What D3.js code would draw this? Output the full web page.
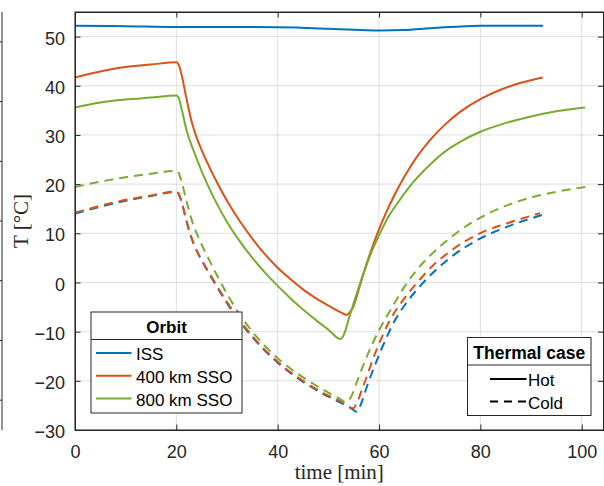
<!DOCTYPE html>
<html><head><meta charset="utf-8">
<script src="https://cdn.jsdelivr.net/npm/d3@7"></script>
<style>html,body{margin:0;padding:0;background:#fff;} svg{display:block}</style>
</head><body>
<svg id="chart" width="604" height="486"></svg>
<script>
// ---------- data ----------
const xTicks = [0, 20, 40, 60, 80, 100];
const yTicks = [-30, -20, -10, 0, 10, 20, 30, 40, 50];
const orbitNames = ["ISS", "400 km SSO", "800 km SSO"];
const orbitColors = ["#0072BD", "#D95319", "#77AC30"];
const caseNames = ["Hot", "Cold"];

// ISS
const issHotTime = [0, 10, 20, 30, 40, 50, 55, 60, 65, 70, 75, 80, 85, 92.4];
const issHotTemp = [52.2, 52.1, 51.95, 51.95, 51.9, 51.6, 51.4, 51.25, 51.35, 51.7, 52.0, 52.2, 52.2, 52.2];
const issColdTime = [0, 5, 10, 15, 20, 20.5, 21, 21.8, 22.7, 23.8, 25, 27.5, 30, 32.5, 35, 37.5, 40, 42.5, 45, 47.5, 50, 52.5, 54.5, 55.6, 56.4, 57.6, 60.5, 63.2, 65.8, 68.4, 71.5, 74, 79.9, 85.2, 92.4];
const issColdTemp = [14.0, 15.4, 16.6, 17.6, 18.4, 17.9, 16.5, 13.3, 9.9, 6.9, 4.5, 0.0, -4.2, -7.9, -11.1, -13.9, -16.3, -18.4, -20.2, -21.8, -23.2, -24.5, -25.6, -26.3, -24.8, -21.2, -13.5, -7.6, -3.6, -0.4, 2.8, 5.0, 8.9, 11.3, 13.8];

// 400 km SSO
const sso400HotTime = [0, 5, 10, 15, 20, 20.5, 21, 22, 23, 24, 25, 27.5, 30, 32.5, 35, 37.5, 40, 42.5, 45, 47.5, 50, 52.5, 53.6, 54.2, 54.8, 55.5, 56, 57, 58.2, 59.5, 61, 63, 65, 67.5, 70.1, 73, 76, 80, 84, 88, 92.3];
const sso400HotTemp = [41.7, 42.9, 43.8, 44.3, 44.8, 44.2, 42.4, 37.4, 32.8, 29.5, 26.9, 21.4, 16.6, 12.5, 8.9, 5.7, 3.0, 0.7, -1.4, -3.2, -4.7, -6.1, -6.6, -6.1, -5.2, -3.2, -1.4, 2.0, 5.8, 9.5, 13.3, 17.7, 21.5, 25.6, 29.0, 32.1, 34.7, 37.3, 39.2, 40.6, 41.7];
const sso400ColdTime = [0, 5, 10, 15, 20, 20.5, 21, 21.8, 22.7, 23.8, 25, 27.5, 30, 32.5, 35, 37.5, 40, 42.5, 45, 47.5, 50, 52.5, 54.9, 55.7, 56.6, 59.5, 62.2, 64.8, 67.4, 70.5, 74, 79.9, 85.2, 91.8];
const sso400ColdTemp = [14.2, 15.6, 16.8, 17.7, 18.5, 18.0, 16.6, 13.4, 10.0, 7.0, 4.6, 0.2, -4.0, -7.7, -10.9, -13.7, -16.1, -18.2, -20.0, -21.6, -23.0, -24.2, -25.6, -24.3, -21.9, -13.7, -7.6, -3.5, -0.2, 3.3, 6.3, 10.0, 12.0, 14.1];

// 800 km SSO
const sso800HotTime = [0, 5, 10, 15, 20, 20.5, 21, 22, 23.35, 25, 27.5, 30, 32.5, 35, 37.5, 40, 42.5, 45, 47.5, 50, 52.4, 53.3, 54, 55, 56, 57, 58.2, 60.2, 62, 64.1, 67, 70.1, 73, 76, 79.9, 84, 89.8, 95, 100.7];
const sso800HotTemp = [35.6, 36.6, 37.2, 37.6, 38.0, 37.4, 35.5, 31.0, 26.95, 22.6, 17.0, 12.3, 8.4, 5.0, 2.0, -0.7, -3.2, -5.5, -7.6, -9.6, -11.5, -10.0, -7.5, -4.2, -1.0, 2.0, 5.4, 10.0, 13.6, 16.8, 20.7, 24.0, 26.6, 28.6, 30.6, 32.1, 33.7, 34.8, 35.6];
const sso800ColdTime = [0, 5, 10, 15, 20, 20.5, 21, 22, 23, 24.3, 26, 28.3, 30, 32.5, 35, 37.5, 40, 42.5, 45, 47.5, 50, 52.5, 53.3, 54, 54.7, 55.5, 56.9, 58.6, 60.2, 62.5, 64.8, 67.5, 72, 76, 81.9, 87.8, 94.3, 100.7];
const sso800ColdTemp = [19.4, 20.5, 21.4, 22.1, 22.7, 22.2, 20.6, 16.6, 12.8, 9.3, 5.6, 0.9, -2.3, -6.5, -10.0, -12.9, -15.4, -17.5, -19.3, -20.9, -22.4, -23.8, -24.3, -24.0, -22.8, -20.6, -16.8, -12.7, -9.3, -5.2, -1.2, 2.6, 7.3, 10.6, 14.2, 16.6, 18.3, 19.4];

const series = [
  {orbit: 0, kase: 0, t: issHotTime, v: issHotTemp},
  {orbit: 0, kase: 1, t: issColdTime, v: issColdTemp},
  {orbit: 1, kase: 0, t: sso400HotTime, v: sso400HotTemp},
  {orbit: 1, kase: 1, t: sso400ColdTime, v: sso400ColdTemp},
  {orbit: 2, kase: 0, t: sso800HotTime, v: sso800HotTemp},
  {orbit: 2, kase: 1, t: sso800ColdTime, v: sso800ColdTemp}
];

// ---------- layout ----------
const L = 75, R = 603.5, T = 12, B = 430;
const axisColor = "#262626";
const sansFont = "'Liberation Sans', Arial, Helvetica, sans-serif";
const serifFont = "'Liberation Serif', 'Times New Roman', serif";
const dash = "9,6";

const svg = d3.select("#chart");
const x = d3.scaleLinear().domain([0, 104.3]).range([L, R]);
const y = d3.scaleLinear().domain([-30, 55]).range([B, T]);

// neighbouring panel's right axis (cut off at left edge)
const yn = d3.scaleLinear().domain([0, 14]).range([B, T]);
const gn = svg.append("g");
gn.append("line").attr("x1", 2).attr("x2", 2).attr("y1", T).attr("y2", B)
  .attr("stroke", axisColor).attr("stroke-width", 1);
gn.selectAll("line.nt").data([1, 3, 5, 7, 9, 11, 13]).enter().append("line")
  .attr("class", "nt").attr("x1", -4).attr("x2", 2)
  .attr("y1", d => yn(d)).attr("y2", d => yn(d))
  .attr("stroke", axisColor).attr("stroke-width", 1);

// grid
const grid = svg.append("g").attr("stroke", axisColor).attr("stroke-opacity", 0.15).attr("stroke-width", 1);
grid.selectAll("line.gx").data(xTicks).enter().append("line")
  .attr("x1", d => x(d)).attr("x2", d => x(d)).attr("y1", T).attr("y2", B);
grid.selectAll("line.gy").data(yTicks).enter().append("line")
  .attr("x1", L).attr("x2", R).attr("y1", d => y(d)).attr("y2", d => y(d));

// lines
const line = d3.line().x(d => d[0]).y(d => d[1]).curve(d3.curveMonotoneX);
svg.append("g").selectAll("path").data(series).enter().append("path")
  .attr("d", s => line(s.t.map((tt, i) => [x(tt), y(s.v[i])])))
  .attr("fill", "none")
  .attr("stroke", s => orbitColors[s.orbit])
  .attr("stroke-width", 2)
  .attr("stroke-dasharray", s => s.kase === 1 ? dash : null)
  .attr("stroke-linejoin", "round");

// axes
function styleAxis(g) {
  g.selectAll("path.domain").attr("stroke", axisColor);
  g.selectAll(".tick line").attr("stroke", axisColor);
  g.selectAll("text").attr("fill", axisColor).style("font-family", sansFont).style("font-size", "18px");
}
const tk = 5.5;
svg.append("g").attr("transform", `translate(0,${B})`)
  .call(d3.axisBottom(x).tickValues(xTicks).tickSizeInner(-tk).tickSizeOuter(0).tickPadding(15.5).tickFormat(d3.format("d")))
  .call(styleAxis);
svg.append("g").attr("transform", `translate(0,${T})`)
  .call(d3.axisTop(x).tickValues(xTicks).tickSizeInner(-tk).tickSizeOuter(0).tickFormat(""))
  .call(styleAxis);
svg.append("g").attr("transform", `translate(${L},0)`)
  .call(d3.axisLeft(y).tickValues(yTicks).tickSizeInner(-tk).tickSizeOuter(0).tickPadding(10).tickFormat(d3.format("d")))
  .call(styleAxis)
  .selectAll("text").attr("dy", "0.42em");
svg.append("g").attr("transform", `translate(${R},0)`)
  .call(d3.axisRight(y).tickValues(yTicks).tickSizeInner(-tk).tickSizeOuter(0).tickFormat(""))
  .call(styleAxis);
svg.selectAll("path.domain").attr("fill", "none").attr("stroke", axisColor).attr("stroke-width", 1);
svg.append("rect").attr("x", L).attr("y", T).attr("width", R - L).attr("height", B - T)
  .attr("fill", "none").attr("stroke", axisColor).attr("stroke-width", 1);

// axis labels
svg.append("text").attr("x", (L + R) / 2).attr("y", 479).attr("text-anchor", "middle")
  .style("font-family", serifFont).style("font-size", "21px").attr("fill", axisColor)
  .text("time [min]");
svg.append("text").attr("transform", `translate(28,${(T + B) / 2}) rotate(-90)`).attr("text-anchor", "middle")
  .style("font-family", serifFont).style("font-size", "21px").attr("fill", axisColor)
  .text("T [°C]");

// legend: Orbit
const lg1 = svg.append("g");
lg1.append("rect").attr("x", 91).attr("y", 312).attr("width", 151).attr("height", 101)
  .attr("fill", "#fff").attr("stroke", axisColor).attr("stroke-width", 1);
lg1.append("line").attr("x1", 91).attr("x2", 242).attr("y1", 339.5).attr("y2", 339.5)
  .attr("stroke", axisColor).attr("stroke-width", 1);
lg1.append("text").attr("x", 166.5).attr("y", 333).attr("text-anchor", "middle")
  .style("font-family", sansFont).style("font-size", "17px").style("font-weight", "bold").attr("fill", "#000")
  .text("Orbit");
const e1 = lg1.selectAll("g.e").data(orbitNames).enter().append("g")
  .attr("transform", (d, i) => `translate(0,${353 + i * 22.8})`);
e1.append("line").attr("x1", 96).attr("x2", 131.5).attr("y1", 0).attr("y2", 0)
  .attr("stroke", (d, i) => orbitColors[i]).attr("stroke-width", 2);
e1.append("text").attr("x", 136).attr("y", 0).attr("dy", "0.42em")
  .style("font-family", sansFont).style("font-size", "17px").attr("fill", "#000").text(d => d);

// legend: Thermal case
const lg2 = svg.append("g");
lg2.append("rect").attr("x", 467.5).attr("y", 337.5).attr("width", 123.5).attr("height", 78)
  .attr("fill", "#fff").attr("stroke", axisColor).attr("stroke-width", 1);
lg2.append("line").attr("x1", 467.5).attr("x2", 591).attr("y1", 365).attr("y2", 365)
  .attr("stroke", axisColor).attr("stroke-width", 1);
lg2.append("text").attr("x", 529.25).attr("y", 359).attr("text-anchor", "middle")
  .style("font-family", sansFont).style("font-size", "17.5px").style("font-weight", "bold").attr("fill", "#000")
  .text("Thermal case");
const e2 = lg2.selectAll("g.e").data(caseNames).enter().append("g")
  .attr("transform", (d, i) => `translate(0,${379 + i * 22.5})`);
e2.append("line").attr("x1", 490).attr("x2", 526.5).attr("y1", 0).attr("y2", 0)
  .attr("stroke", "#000").attr("stroke-width", 2)
  .attr("stroke-dasharray", (d, i) => i === 1 ? "8,6" : null);
e2.append("text").attr("x", 528).attr("y", 0).attr("dy", "0.42em")
  .style("font-family", sansFont).style("font-size", "17px").attr("fill", "#000").text(d => d);
</script>
</body></html>
